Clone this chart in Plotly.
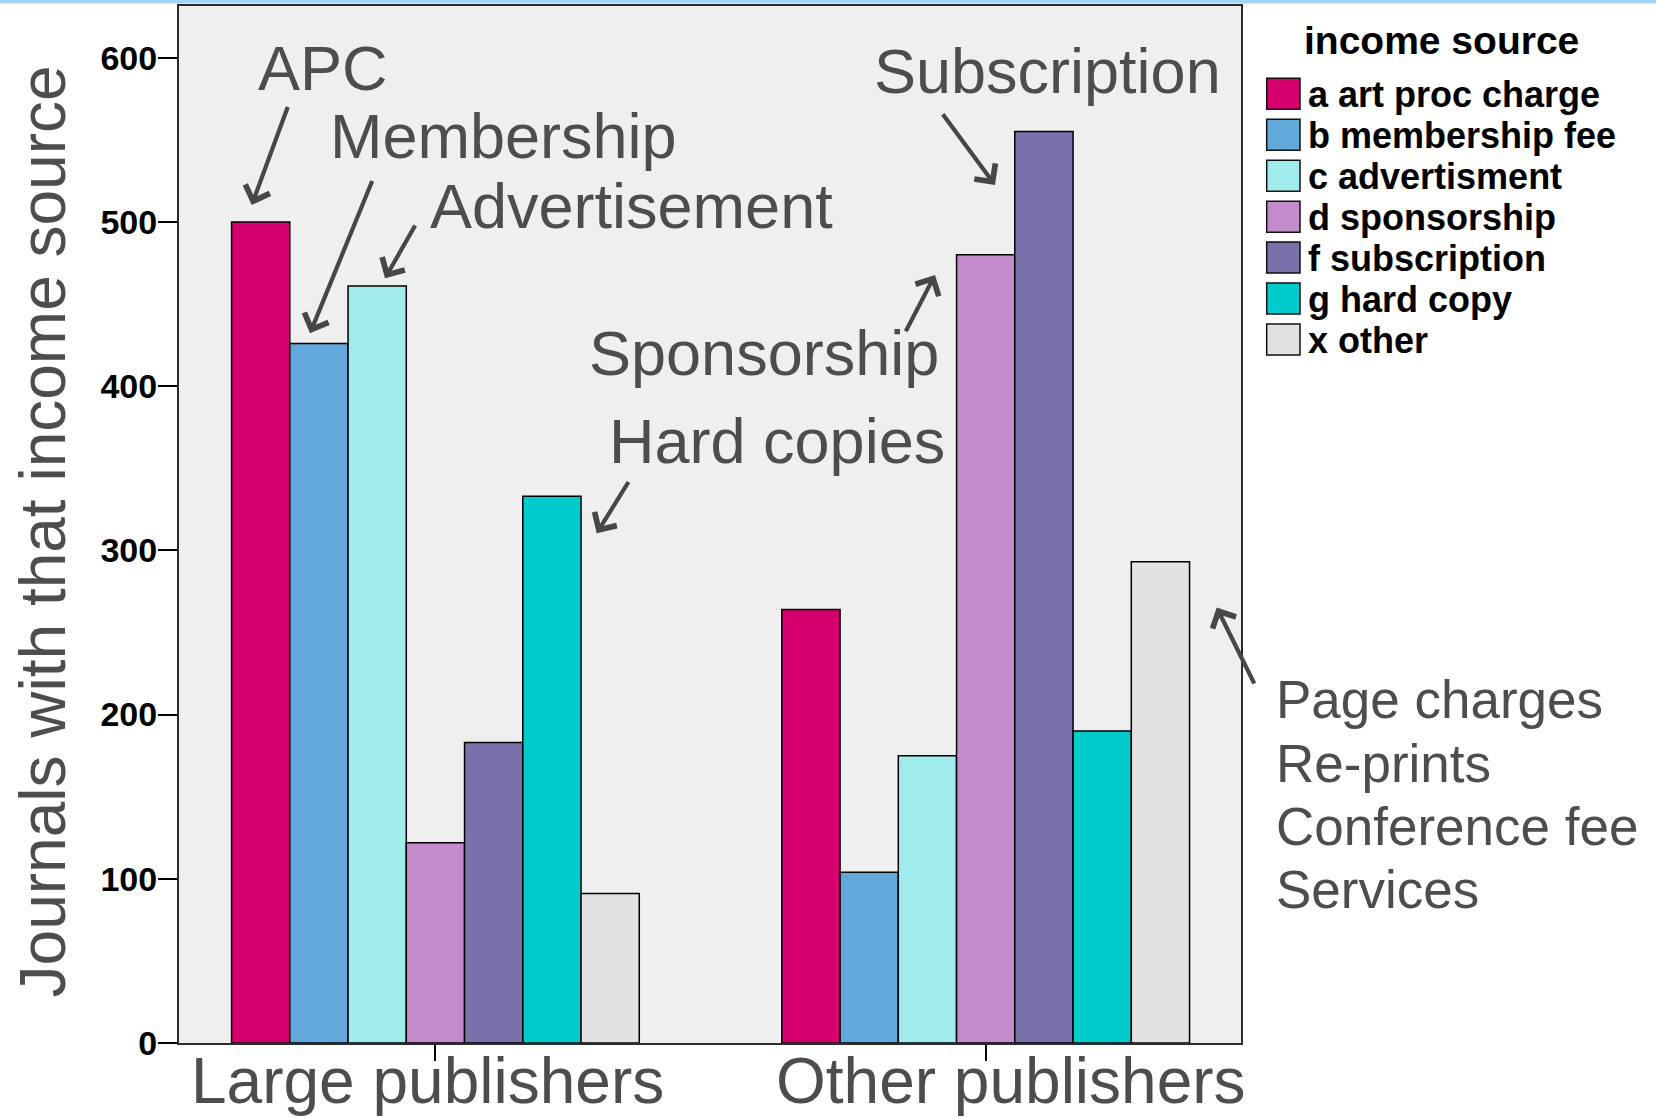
import plotly.graph_objects as go

# ---------------- data ----------------
categories = ["Large publishers", "Other publishers"]
series_names = ["a art proc charge", "b membership fee", "c advertisment",
                "d sponsorship", "f subscription", "g hard copy", "x other"]
apc = [500, 264]
membership = [426, 104]
advertisement = [461, 175]
sponsorship = [122, 480]
subscription = [183, 555]
hard_copy = [333, 190]
other = [91, 293]
y_ticks = [0, 100, 200, 300, 400, 500, 600]
y_title = "Journals with that income source"
legend_title = "income source"
callout_texts = ["APC", "Membership", "Advertisement", "Subscription",
                 "Sponsorship", "Hard copies"]
side_note_lines = ["Page charges", "Re-prints", "Conference fee", "Services"]

series_values = [apc, membership, advertisement, sponsorship,
                 subscription, hard_copy, other]

# ---------------- style ----------------
colors = ["#D5006D", "#62A8DB", "#A0ECEC", "#C48BCA", "#7B71AA", "#00CCCC", "#E2E2E2"]
W, H = 1656, 1118
L, R, T, B = 179, 415, 6, 75
PW, PH = W - L - R, H - T - B
TXT = "#4d4d4d"
ARROW = "#474747"
FONT = "Liberation Sans, Arial"


def px_x(px):
    return (px - L) / PW


def px_y(py):
    return (H - B - py) / PH


fig = go.Figure()
for name, vals, col in zip(series_names, series_values, colors):
    fig.add_trace(go.Bar(
        x=categories, y=vals, name=name,
        marker=dict(color=col, line=dict(color="black", width=1.5)),
        showlegend=False,
    ))

annotations = []
shapes = []

# category labels under the axis (slightly off-centre as in the original)
cat_shift = [-7.5, 25.4]
for cat, sh in zip(categories, cat_shift):
    annotations.append(dict(
        text=cat, xref="x", yref="paper", x=cat, y=px_y(1081), xshift=sh,
        xanchor="center", yanchor="middle", showarrow=False,
        font=dict(family=FONT, size=64, color=TXT)))

# callout texts (center px positions)
text_pos = [(323, 68), (503.8, 135.7), (631.5, 206.5), (1047, 71.3),
            (763.6, 352.7), (776.8, 440.9)]
for t, (cx, cy) in zip(callout_texts, text_pos):
    annotations.append(dict(
        text=t, xref="paper", yref="paper", x=px_x(cx), y=px_y(cy),
        xanchor="center", yanchor="middle", showarrow=False,
        font=dict(family=FONT, size=63, color=TXT)))

# side note, one annotation per line
for i, line in enumerate(side_note_lines):
    baseline = 718.3 + 63.3 * i
    annotations.append(dict(
        text=line, xref="paper", yref="paper",
        x=px_x(1274), y=px_y(baseline - 18.5), xanchor="left", yanchor="middle",
        align="left", showarrow=False,
        font=dict(family=FONT, size=53, color=TXT)))

# arrows: (head x, head y, tail x, tail y) in px
arrows = [(251.7, 205, 288.3, 105.6),
          (310, 333.3, 372.8, 179.5),
          (385, 278.3, 416, 224),
          (995, 185, 941.7, 112.7),
          (935, 275, 905, 332.7),
          (596.7, 533.3, 629.4, 480.5),
          (1216.7, 607.5, 1255, 685)]
for hx, hy, tx, ty in arrows:
    annotations.append(dict(
        text="", xref="paper", yref="paper", x=px_x(hx), y=px_y(hy),
        ax=tx - hx, ay=ty - hy, showarrow=True, arrowhead=4,
        arrowsize=1.2, arrowwidth=4.2, arrowcolor=ARROW, standoff=0))

# y axis title
annotations.append(dict(
    text=y_title, xref="paper", yref="paper", x=px_x(42.8), y=px_y(531.6),
    xanchor="center", yanchor="middle", textangle=-90, showarrow=False,
    font=dict(family=FONT, size=64, color=TXT)))

# legend (manual, large swatches)
annotations.append(dict(
    text=legend_title, xref="paper", yref="paper", x=px_x(1441.5), y=px_y(40),
    xanchor="center", yanchor="middle", showarrow=False,
    font=dict(family=FONT, size=39, color="black", weight="bold")))
for i, (name, col) in enumerate(zip(series_names, colors)):
    top = 78.3 + 40.95 * i
    shapes.append(dict(
        type="rect", xref="paper", yref="paper",
        x0=px_x(1266.7), x1=px_x(1300), y0=px_y(top + 31), y1=px_y(top),
        fillcolor=col, line=dict(color="#111", width=1.5), layer="above"))
    annotations.append(dict(
        text=name, xref="paper", yref="paper", x=px_x(1306), y=px_y(top + 16.5),
        xanchor="left", yanchor="middle", showarrow=False,
        font=dict(family=FONT, size=36, color="black", weight="bold")))

# thin blue band at the very top
shapes.append(dict(
    type="rect", xref="paper", yref="paper",
    x0=px_x(0), x1=px_x(W), y0=px_y(3.5), y1=px_y(0),
    fillcolor="#a3d3f4", line=dict(width=0), layer="above"))

fig.update_layout(
    width=W, height=H,
    margin=dict(l=L, r=R, t=T, b=B, pad=0, autoexpand=False),
    paper_bgcolor="white", plot_bgcolor="#efefef",
    barmode="group", bargap=0.259, bargroupgap=0,
    showlegend=False,
    annotations=annotations, shapes=shapes,
    xaxis=dict(
        type="category", range=[-0.466, 1.464], automargin=False,
        showline=True, mirror=True, linecolor="#2b2b2b", linewidth=2,
        ticks="outside", ticklen=16, tickwidth=2, tickcolor="black",
        showticklabels=False,
        showgrid=False, zeroline=False, fixedrange=True),
    yaxis=dict(
        range=[0, 631.5], tickvals=y_ticks, automargin=False,
        showline=True, mirror=True, linecolor="#2b2b2b", linewidth=2,
        ticks="outside", ticklen=19, tickwidth=2, tickcolor="black",
        ticklabelstandoff=-6,
        tickfont=dict(family=FONT, size=34, color="black", weight="bold"),
        showgrid=False, zeroline=False, fixedrange=True),
)

fig.write_html("out.html", config={"displayModeBar": False},
               post_script="document.body.style.margin='0';document.body.style.overflow='hidden';")
